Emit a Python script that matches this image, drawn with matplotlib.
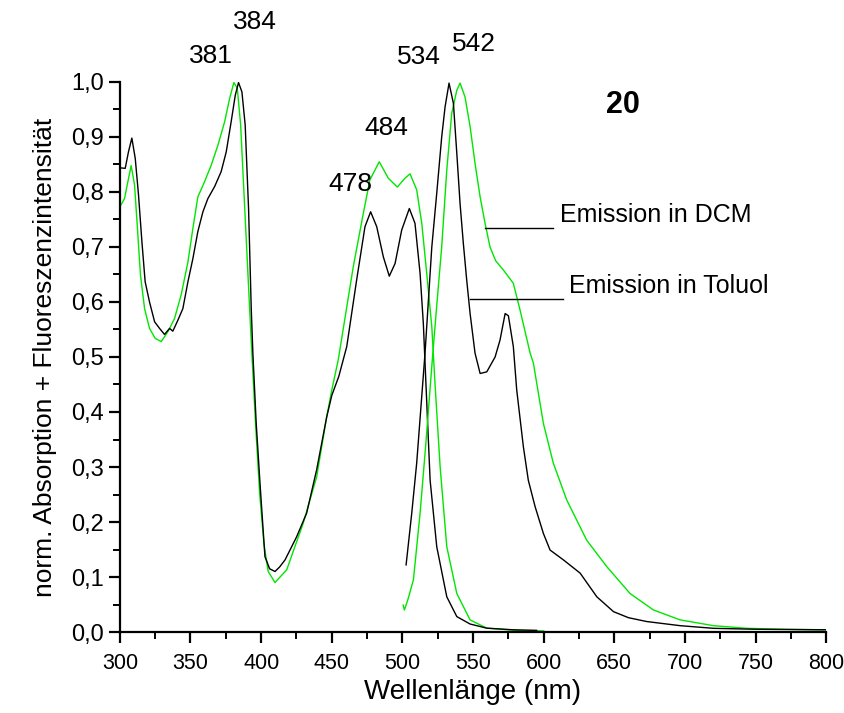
import numpy as np
import matplotlib
matplotlib.use("Agg")
import matplotlib.pyplot as plt

plt.rcParams["font.family"] = ["Liberation Sans", "DejaVu Sans"]

# ---------------------------------------------------------
# Absorption spectra (normalised)
# ---------------------------------------------------------
abs_tol_x = [300, 303.8, 306.1, 308.5, 310.9, 313.2, 315.6, 317.9, 321, 324.6, 328.1,
             331.6, 335.2, 337.5, 341.1, 344.6, 348.2, 351.7, 355.2, 358.8, 362.3,
             367.1, 371.7, 375.3, 378.8, 381.7, 384, 386.4, 388.7, 391.1, 393, 394.2,
             396.5, 399.2, 402.7, 406, 409.8, 413, 416.9, 425.1, 432.2, 439.3, 446.4,
             450, 455, 460.6, 467.6, 473.5, 477.5, 481.8, 486.5, 490.7, 494.8, 499.5,
             504.9, 508.9, 512.5, 514.8, 519.6, 524.3, 531.4, 538.5, 547.9, 559.7,
             578.5, 595]
abs_tol_y = [0.844, 0.843, 0.873, 0.898, 0.861, 0.795, 0.710, 0.637, 0.60, 0.564, 0.552,
             0.541, 0.552, 0.547, 0.567, 0.588, 0.637, 0.679, 0.728, 0.764, 0.788, 0.81,
             0.837, 0.873, 0.928, 0.976, 0.999, 0.982, 0.922, 0.770, 0.588, 0.504, 0.38,
             0.27, 0.137, 0.115, 0.110, 0.118, 0.131, 0.173, 0.216, 0.295, 0.391, 0.43,
             0.465, 0.519, 0.64, 0.737, 0.764, 0.737, 0.682, 0.647, 0.670, 0.731, 0.770,
             0.743, 0.652, 0.561, 0.276, 0.155, 0.064, 0.028, 0.0145, 0.007, 0.004, 0.003]

abs_dcm_x = [300, 303.3, 305.7, 308, 310.4, 312.3, 314.6, 317.5, 321, 325, 329.3, 334,
             338.7, 343.4, 348.2, 351.7, 355.2, 360, 364.7, 369.4, 374.2, 377.7, 380.7,
             383.1, 385.5, 387.8, 390.7, 393, 396, 399, 402, 405, 409.8, 418.1, 429.8,
             439.3, 446.4, 450, 454.6, 465.2, 472.3, 477, 483.6, 490, 496.4, 501.8, 505.4,
             510.1, 513.7, 517.2, 520.8, 523.1, 526.7, 531.4, 538.5, 547.9, 559.7, 580,
             600]
abs_dcm_y = [0.773, 0.788, 0.819, 0.848, 0.813, 0.74, 0.649, 0.588, 0.552, 0.534, 0.528,
             0.546, 0.570, 0.613, 0.673, 0.734, 0.791, 0.819, 0.849, 0.885, 0.928, 0.970,
             0.999, 0.989, 0.922, 0.801, 0.649, 0.528, 0.38, 0.25, 0.16, 0.11, 0.090,
             0.113, 0.198, 0.282, 0.391, 0.44, 0.495, 0.664, 0.761, 0.822, 0.855, 0.825,
             0.809, 0.825, 0.833, 0.804, 0.743, 0.652, 0.555, 0.45, 0.30, 0.155, 0.07,
             0.022, 0.007, 0.003, 0.002]

# ---------------------------------------------------------
# Emission spectra (normalised)
# ---------------------------------------------------------
em_tol_x = [502.6, 506.6, 510.1, 516, 520.8, 524.3, 527.8, 530.2, 533, 536.1, 538.5,
            540.8, 543.1, 545.5, 547.9, 551.4, 555, 559.7, 565.6, 569.1, 572.7, 575,
            578.5, 580.9, 585.6, 589.1, 593.9, 599.8, 604.5, 614, 625.8, 637.6, 649.4,
            660, 673, 696.6, 720.2, 750, 800]
em_tol_y = [0.122, 0.216, 0.307, 0.507, 0.70, 0.798, 0.90, 0.955, 0.998, 0.961, 0.870,
            0.779, 0.707, 0.64, 0.579, 0.507, 0.47, 0.473, 0.50, 0.531, 0.579, 0.575,
            0.519, 0.44, 0.337, 0.276, 0.228, 0.179, 0.149, 0.131, 0.107, 0.064, 0.037,
            0.026, 0.019, 0.0115, 0.0067, 0.005, 0.004]

em_dcm_x = [500.5, 501.4, 504, 507.8, 512.5, 516.5, 521, 524.5, 527.8, 531.4, 534.9,
            538.5, 540.8, 544.3, 547.9, 551.4, 555, 558.5, 562, 566, 571.5, 578.5, 583.3,
            590.4, 592.7, 599.8, 606.8, 616.3, 630.4, 644.6, 661.1, 677.7, 696.6, 720.2,
            743.8, 770, 800]
em_dcm_y = [0.049, 0.04, 0.06, 0.095, 0.216, 0.34, 0.49, 0.60, 0.70, 0.84, 0.943,
            0.985, 0.998, 0.973, 0.919, 0.852, 0.791, 0.743, 0.70, 0.675, 0.658, 0.634,
            0.585, 0.507, 0.489, 0.379, 0.307, 0.24, 0.167, 0.119, 0.070, 0.04, 0.022,
            0.0115, 0.0067, 0.005, 0.004]

# peak labels
peak_labels = ["381", "384", "478", "484", "534", "542"]
peak_x = [364.4, 395.6, 463.5, 488.4, 511.7, 550.7]
peak_y = [1.047, 1.109, 0.815, 0.916, 1.045, 1.069]

GREEN = "#00e600"

fig = plt.figure(figsize=(8.44, 7.13), dpi=100)
ax = fig.add_axes([0.142, 0.1136, 0.837, 0.7714])

ax.plot(abs_dcm_x, abs_dcm_y, color=GREEN, lw=1.0)
ax.plot(abs_tol_x, abs_tol_y, color="black", lw=1.0)
ax.plot(em_dcm_x, em_dcm_y, color=GREEN, lw=1.0)
ax.plot(em_tol_x, em_tol_y, color="black", lw=1.0)

ax.set_xlim(300, 800)
ax.set_ylim(0, 1.0)

for lab, px, py in zip(peak_labels, peak_x, peak_y):
    ax.text(px, py, lab, fontsize=19, ha="center", va="center", clip_on=False)

ax.text(656.2, 0.958, "20", fontsize=22, fontweight="bold", ha="center", va="center")

# label lines for the emission curves
ax.plot([558.5, 606.6], [0.734, 0.734], color="black", lw=1.0)
ax.text(611.6, 0.758, "Emission in DCM", fontsize=18, ha="left", va="center")
ax.plot([547.9, 613.9], [0.605, 0.605], color="black", lw=1.0)
ax.text(618.2, 0.629, "Emission in Toluol", fontsize=18, ha="left", va="center")

ax.set_xticks(np.arange(300, 801, 50))
ax.set_xticks(np.arange(300, 801, 25), minor=True)
ax.set_yticks(np.arange(0, 1.01, 0.1))
ax.set_yticks(np.arange(0, 1.01, 0.05), minor=True)
ax.set_yticklabels([f"{v:.1f}".replace(".", ",") for v in np.arange(0, 1.01, 0.1)])

for s in ["top", "right"]:
    ax.spines[s].set_visible(False)
for s in ["left", "bottom"]:
    ax.spines[s].set_linewidth(1.6)

ax.tick_params(axis="both", which="major", direction="out", length=8, width=1.6,
               labelsize=17)
ax.tick_params(axis="both", which="minor", direction="out", length=5, width=1.4)
ax.tick_params(axis="x", pad=7, labelsize=15.5)

ax.set_xlabel("Wellenlänge (nm)", fontsize=20, labelpad=4)
ax.set_ylabel("norm. Absorption + Fluoreszenzintensität", fontsize=19, labelpad=10)

fig.savefig("out.png", dpi=100)
